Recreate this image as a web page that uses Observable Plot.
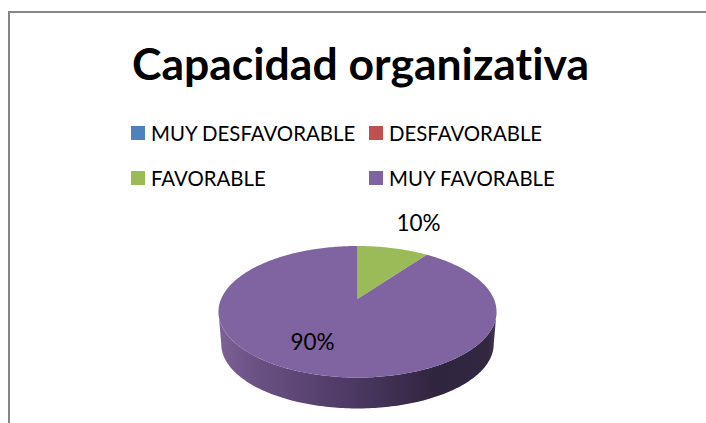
<!DOCTYPE html>
<html><head><meta charset="utf-8">
<script src="https://cdn.jsdelivr.net/npm/d3@7"></script>
<script src="https://cdn.jsdelivr.net/npm/@observablehq/plot@0.6"></script>
<style>
html,body{margin:0;padding:0;background:#fff;overflow:hidden}
#page{position:relative;width:706px;height:423px;font-family:Lato,sans-serif;color:#000;font-variant-ligatures:none}
#frame{position:absolute;left:8px;top:11px;right:-4px;bottom:-4px;border:2px solid #868686}
#title{position:absolute;left:0;top:36px;width:721px;text-align:center;font-size:44.5px;font-weight:700;line-height:54px;white-space:nowrap}
.lg{position:absolute;font-size:20.4px;line-height:24px;white-space:nowrap}
.sw{position:absolute;width:14px;height:14px}
#chart{position:absolute;left:0;top:205px}
</style></head><body>
<div id="page"><div id="frame"></div><div id="title"></div><div id="legend"></div><div id="chart"></div></div>
<script>
const titleText = "Capacidad organizativa";
const categories = ["MUY DESFAVORABLE","DESFAVORABLE","FAVORABLE","MUY FAVORABLE"];
const shares = [0,0,10,90];
const colors = ["#4F81BD","#C0504D","#9BBB59","#8064A2"];
const labelTexts = ["10%","90%"];
const labelX = [0.447,-0.33];
const labelY = [1.19,-0.687];

document.getElementById("title").textContent = titleText;
const cols=[131,369], rows=[126,171];
categories.forEach((c,i)=>{
  const lx=cols[i%2], ly=rows[Math.floor(i/2)];
  const s=document.createElement("div"); s.className="sw"; s.style.cssText=`left:${lx}px;top:${ly}px;background:${colors[i]}`;
  const t=document.createElement("div"); t.className="lg"; t.textContent=c; t.style.cssText=`left:${lx+20}px;top:${ly-5}px`;
  document.getElementById("legend").append(s,t);
});

// perspective projection of a unit circle onto the tilted pie
const k=0.194, depth=0.513, baseScale=0.98;
const proj=(deg,scale=1,dy=0)=>{
  const a=deg*Math.PI/180, X=Math.sin(a), Y=Math.cos(a), d=1+k*Y;
  return {x:scale*X/d, y:scale*Y/d-dy};
};
const arcPts=(a,b,scale,dy)=>{const n=Math.max(2,Math.ceil(Math.abs(b-a)));
  return d3.range(n+1).map(i=>proj(a+(b-a)*i/n,scale,dy));};
const edge=Math.acos(-k)*180/Math.PI;

const wall=[...arcPts(edge,360-edge,1,0),...arcPts(360-edge,edge,baseScale,depth)];
let cum=0; const slices=[];
categories.forEach((c,i)=>{
  const a0=cum*3.6; cum+=shares[i]; const a1=cum*3.6;
  if(shares[i]>0) slices.push({c,pts:[{x:0,y:0},...arcPts(a0,a1,1,0)]});
});
const sliceRows=slices.flatMap(s=>s.pts.map(p=>({...p,c:s.c})));
const labels=labelTexts.map((t,i)=>({t,x:labelX[i],y:labelY[i]}));

const plot=Plot.plot({
  width:706,height:218,margin:0,
  x:{domain:[-1,1],range:[220.6,493.4],axis:null},
  y:{domain:[1,-1],range:[30.2,156.8],axis:null},
  color:{domain:categories,range:colors},
  marks:[
    Plot.line(wall,{x:"x",y:"y",fill:"url(#side)",stroke:"none"}),
    Plot.line(sliceRows,{x:"x",y:"y",z:"c",fill:"c",stroke:"none"}),
    Plot.text(labels,{x:"x",y:"y",text:"t",fontSize:22.5,fill:"#000",fontFamily:"Lato, sans-serif"})
  ]
});
const defs=document.createElementNS("http://www.w3.org/2000/svg","defs");
defs.innerHTML=`<linearGradient id="side" x1="0" x2="1" y1="0" y2="0">
<stop offset="0" stop-color="#7D6198"/><stop offset="0.12" stop-color="#6C5285"/>
<stop offset="0.5" stop-color="#4B3862"/><stop offset="0.78" stop-color="#30253F"/>
<stop offset="0.97" stop-color="#32273F"/><stop offset="1" stop-color="#4A3A5C"/></linearGradient>`;
plot.prepend(defs);
plot.style.background="transparent";
document.getElementById("chart").append(plot);
</script></body></html>
